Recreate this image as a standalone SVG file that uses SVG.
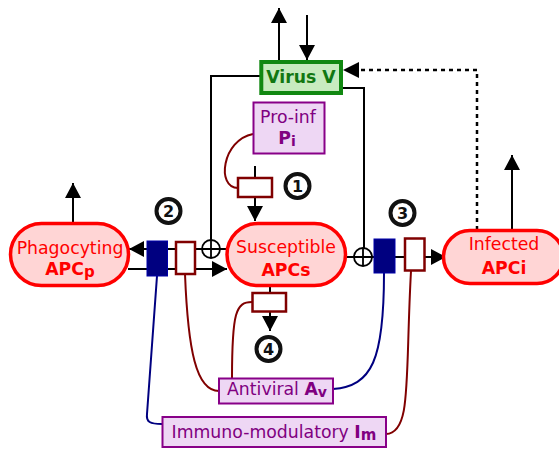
<svg xmlns="http://www.w3.org/2000/svg" width="559" height="450" viewBox="0 0 559 450">
<defs>
<marker id="ah" viewBox="0 0 15 16" refX="15" refY="8" markerWidth="15" markerHeight="16" markerUnits="userSpaceOnUse" orient="auto">
<path d="M0,0 L15,8 L0,16 Z" fill="#000"/>
</marker>
<style>
text{font-family:"DejaVu Sans","Liberation Sans",sans-serif;font-size:17.3px;text-anchor:middle}
.b{font-weight:bold}
.pill{fill:#ffd5d5;stroke:#ff0000;stroke-width:3.5}
.red{fill:#ff0000}
.pur{fill:#800080}
.pbox{fill:#eed7f4;stroke:#880088;stroke-width:2}
.ln{fill:none;stroke:#000;stroke-width:2}
.rx{fill:#fff;stroke:#800000;stroke-width:2.5}
.bx{fill:#000080;stroke:#0000aa;stroke-width:1}
.mr{fill:none;stroke:#800000;stroke-width:2}
.mb{fill:none;stroke:#000080;stroke-width:2}
.num circle{fill:#fff;stroke:#111;stroke-width:4}
.num text{font-size:16px;font-weight:bold;fill:#111}
.pl{fill:#fff;stroke:#000;stroke-width:1.8}
</style>
</defs>
<g id="connectors">
<line class="ln" x1="279" y1="62" x2="279" y2="8" marker-end="url(#ah)"/>
<line class="ln" x1="307" y1="15" x2="307" y2="60" marker-end="url(#ah)"/>
<polyline class="ln" points="261,76 211,76 211,249"/>
<polyline class="ln" points="341,88 364,88 364,257"/>
<path d="M477,230 L477,70 L355,70" fill="none" stroke="#000" stroke-width="2.5" stroke-dasharray="4,4"/>
<path d="M359,62 L343,70 L359,78 Z" fill="#000"/>
<line class="ln" x1="512" y1="230" x2="512" y2="155" marker-end="url(#ah)"/>
<line class="ln" x1="73" y1="223" x2="73" y2="183" marker-end="url(#ah)"/>
<line class="ln" x1="255" y1="166" x2="255" y2="178"/>
<line class="ln" x1="255" y1="198" x2="255" y2="221" marker-end="url(#ah)"/>
<line class="ln" x1="270" y1="287" x2="270" y2="293"/>
<line class="ln" x1="270" y1="311" x2="270" y2="331" marker-end="url(#ah)"/>
<line class="ln" x1="227" y1="249" x2="129" y2="249" marker-end="url(#ah)"/>
<line class="ln" x1="128" y1="269" x2="227" y2="269" marker-end="url(#ah)"/>
<line class="ln" x1="346" y1="257" x2="446" y2="257" marker-end="url(#ah)"/>
<path class="mr" d="M253,134 C222,140 216,188 238,188"/>
<path class="mr" d="M252,302 C236,302 232,312 232,378"/>
<path class="mr" d="M185,274 C188,350 196,391 219,391"/>
<path class="mb" d="M157,276 L147,414 C146,422 150,424 162,424"/>
<path class="mb" d="M384,273 C384,360 372,386 333,389"/>
<path class="mr" d="M411,271 C405,380 412,433 386,434"/>
<circle class="pl" cx="211" cy="249" r="9"/>
<path d="M202,249 H220 M211,240 V258" stroke="#000" stroke-width="1.8"/>
<circle class="pl" cx="363" cy="257" r="9"/>
<path d="M354,257 H372 M363,248 V266" stroke="#000" stroke-width="1.8"/>
<rect class="rx" x="238" y="178" width="34" height="19"/>
<rect class="rx" x="252.5" y="293" width="33.5" height="18.5"/>
<rect class="bx" x="147" y="241" width="20.5" height="35"/>
<rect class="rx" x="176" y="242" width="19" height="32"/>
<rect class="bx" x="374" y="239" width="21" height="34"/>
<rect class="rx" x="405" y="238.5" width="19.5" height="32"/>
</g>
<g id="virus">
<rect x="261.3" y="62" width="79.7" height="31" fill="#c8ebbf" stroke="#118811" stroke-width="4"/>
<text x="301" y="83" class="b" fill="#117711">Virus V</text>
</g>
<g id="proinf">
<rect class="pbox" x="253.5" y="102.5" width="71" height="51"/>
<text x="288" y="123" class="pur">Pro-inf</text>
<text x="287" y="144" class="pur b">P<tspan font-size="14" dy="2">i</tspan></text>
</g>
<g id="susceptible">
<rect class="pill" x="227" y="223.5" width="118.5" height="62" rx="31"/>
<text x="286" y="253" class="red">Susceptible</text>
<text x="286" y="276" class="red b">APCs</text>
</g>
<g id="phagocyting">
<rect class="pill" x="10.5" y="223.5" width="118" height="62" rx="31"/>
<text x="70" y="253.5" class="red">Phagocyting</text>
<text x="70" y="274.5" class="red b">APC<tspan font-size="15" dy="2">p</tspan></text>
</g>
<g id="infected">
<rect class="pill" x="443.5" y="230.5" width="120" height="53" rx="26.5"/>
<text x="504" y="250" class="red">Infected</text>
<text x="504" y="274" class="red b">APCi</text>
</g>
<g id="antiviral">
<rect class="pbox" x="219" y="378.5" width="114" height="25"/>
<text x="277" y="395" class="pur">Antiviral <tspan class="b">A<tspan font-size="14" dy="2">v</tspan></tspan></text>
</g>
<g id="immuno">
<rect class="pbox" x="162.5" y="417" width="223.5" height="30"/>
<text x="274" y="438" class="pur">Immuno-modulatory <tspan class="b">I<tspan font-size="15" dy="2">m</tspan></tspan></text>
</g>
<g id="n1" class="num"><circle cx="297.5" cy="186" r="12"/><text x="297.5" y="191.5">1</text></g>
<g id="n2" class="num"><circle cx="168.5" cy="211" r="12"/><text x="168.5" y="216.5">2</text></g>
<g id="n3" class="num"><circle cx="402.5" cy="213" r="12"/><text x="402.5" y="218.5">3</text></g>
<g id="n4" class="num"><circle cx="268.5" cy="349" r="12"/><text x="268.5" y="354.5">4</text></g>
</svg>
